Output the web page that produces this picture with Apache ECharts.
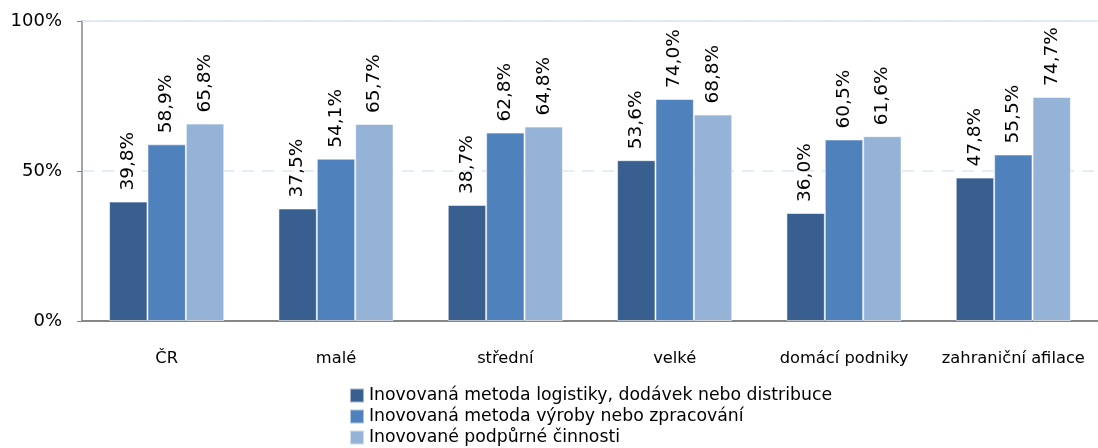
<!DOCTYPE html>
<html>
<head>
<meta charset="utf-8">
<script src="https://cdn.jsdelivr.net/npm/echarts@6/dist/echarts.min.js"></script>
<style>
html,body{margin:0;padding:0;background:#fff;}
#c{width:1098px;height:448px;}
</style>
</head>
<body>
<div id="c"></div>
<script>
const categories = ['ČR', 'malé', 'střední', 'velké', 'domácí podniky', 'zahraniční afilace'];
const seriesNames = [
  'Inovovaná metoda logistiky, dodávek nebo distribuce',
  'Inovovaná metoda výroby nebo zpracování',
  'Inovované podpůrné činnosti'
];
const logistika = [39.8, 37.5, 38.7, 53.6, 36.0, 47.8];
const vyroba = [58.9, 54.1, 62.8, 74.0, 60.5, 55.5];
const podpurne = [65.8, 65.7, 64.8, 68.8, 61.6, 74.7];
const yTicks = [0, 50, 100];
const colors = ['#385f8f', '#4f81bd', '#95b3d7'];
const FONT = 'DejaVu Sans';

const chart = echarts.init(document.getElementById('c'));
const labelCfg = {
  show: true,
  position: 'top',
  rotate: 90,
  align: 'left',
  verticalAlign: 'middle',
  distance: 11,
  fontFamily: FONT,
  fontSize: 18.5,
  color: '#000',
  formatter: p => p.value.toFixed(1).replace('.', ',') + '%'
};
function mk(name, data, color, extra) {
  return Object.assign({
    name: name,
    type: 'bar',
    data: data,
    barGap: '0%',
    barCategoryGap: '32%',
    itemStyle: { color: color, borderColor: 'rgba(255,255,255,0.55)', borderWidth: 1 },
    label: labelCfg,
    emphasis: { disabled: true }
  }, extra || {});
}
chart.setOption({
  animation: false,
  textStyle: { fontFamily: FONT },
  grid: { left: 82, top: 21, width: 1025, height: 300, containLabel: false },
  legend: {
    orient: 'vertical',
    left: 349,
    top: 387,
    padding: 0,
    itemWidth: 14,
    itemHeight: 14,
    itemGap: 4,
    icon: 'rect',
    textStyle: { fontFamily: FONT, fontSize: 17.3, color: '#000' },
    data: seriesNames
  },
  xAxis: {
    type: 'category',
    data: categories,
    axisLine: { lineStyle: { color: '#868686', width: 2 } },
    axisTick: { show: false },
    axisLabel: { margin: 30, fontFamily: FONT, fontSize: 16.3, color: '#000', interval: 0 },
    splitLine: { show: false }
  },
  yAxis: {
    type: 'value',
    min: yTicks[0],
    max: yTicks[yTicks.length - 1],
    interval: 50,
    axisLine: { show: true, lineStyle: { color: '#868686', width: 1.5 } },
    axisTick: { show: true, inside: false, length: 5, lineStyle: { color: '#868686' } },
    axisLabel: { margin: 20, fontFamily: FONT, fontSize: 18, color: '#000', formatter: '{value}%', padding: [3, 0, 0, 0] },
    splitLine: { show: true, lineStyle: { color: '#dce6f2', width: 1.5, type: [12, 8] } }
  },
  series: [
    mk(seriesNames[0], logistika, colors[0], {
      markLine: {
        silent: true, symbol: 'none', label: { show: false },
        lineStyle: { color: '#dce6f2', width: 1.5, type: 'solid' },
        data: [{ yAxis: yTicks[yTicks.length - 1] }]
      }
    }),
    mk(seriesNames[1], vyroba, colors[1]),
    mk(seriesNames[2], podpurne, colors[2])
  ]
});
</script>
</body>
</html>
